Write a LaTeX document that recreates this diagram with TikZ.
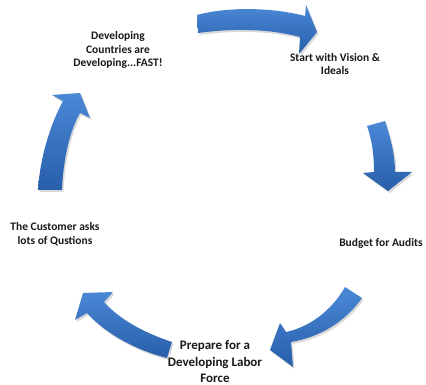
\documentclass[tikz,border=0pt]{standalone}
\usepackage{fontspec}
\setmainfont{Carlito}
\usetikzlibrary{shadows}

\definecolor{arrowtop}{RGB}{74,136,214}
\definecolor{arrowbot}{RGB}{40,94,170}

\begin{document}
\begin{tikzpicture}[x=1pt, y=-1pt,
    label/.style={align=center, font=\bfseries\fontsize{11.5}{13.5}\selectfont, text=black!90},
    biglabel/.style={label, font=\bfseries\fontsize{13}{16.5}\selectfont},
    cyclearrow/.style={top color=arrowtop, bottom color=arrowbot, draw=none,
        drop shadow={shadow xshift=1.5pt, shadow yshift=-2pt, opacity=0.25, fill=black!60}}]
    \useasboundingbox (0,0) rectangle (426,385);

    % Nodes
    % top left
    \node[label] (dev) at (118,50) {Developing\\Countries are\\Developing...FAST!};

    % top right
    \node[label] (start) at (335,64) {Start with Vision \&\\Ideals};

    % right
    \node[label] (budget) at (381,243) {Budget for Audits};

    % bottom
    \node[biglabel] (prepare) at (215,362) {Prepare for a\\Developing Labor\\Force};

    % left
    \node[label] (customer) at (55,234) {The Customer asks\\lots of Qustions};

    % Arrows
    % dev -> start
    \path[cyclearrow] (197,15) .. controls (230,6) and (275,8) .. (305,16)
        -- (306,5) -- (317,32) -- (299,54) -- (300,37)
        .. controls (270,29) and (235,28) .. (198,33) -- cycle;

    % start -> budget
    \path[cyclearrow] (367,126) -- (385,121)
        .. controls (391,140) and (395,155) .. (395,172)
        -- (412,172) -- (388,191) -- (363,173) -- (374,172)
        .. controls (374,155) and (372,140) .. (367,126) -- cycle;

    % budget -> prepare
    \path[cyclearrow] (345,287) -- (362,298)
        .. controls (345,322) and (320,337) .. (291,342)
        -- (293,367) -- (270,350) -- (280,323) -- (286,332)
        .. controls (310,327) and (332,310) .. (345,287) -- cycle;

    % prepare -> customer
    \path[cyclearrow] (167,358) -- (172,342)
        .. controls (145,333) and (120,320) .. (104,302)
        -- (113,292) -- (83,293) -- (75,320) -- (87,313)
        .. controls (105,333) and (135,350) .. (167,358) -- cycle;

    % customer -> dev
    \path[cyclearrow] (38,190) -- (62,190)
        .. controls (63,160) and (70,130) .. (80,113)
        -- (90,118) -- (80,93) -- (52,95) -- (63,101)
        .. controls (50,125) and (40,158) .. (38,190) -- cycle;

\end{tikzpicture}
\end{document}
